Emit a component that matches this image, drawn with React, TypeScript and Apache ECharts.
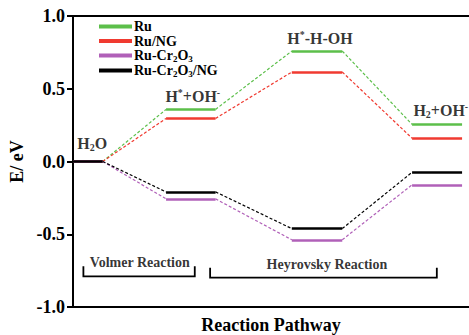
import React, { useEffect, useRef } from "react";
import * as echarts from "echarts";

const FONT = "Liberation Serif";

// ---- data ----
const seriesNames = ["Ru", "Ru/NG", "Ru-Cr2O3", "Ru-Cr2O3/NG"];
const seriesColors = ["#5cbf4a", "#f03a30", "#b060b8", "#000000"];
const legendLabels = [
  "{t|Ru}",
  "{t|Ru/NG}",
  "{t|Ru-Cr}{s|2}{t|O}{s|3}",
  "{t|Ru-Cr}{s|2}{t|O}{s|3}{t|/NG}",
];
const ruValues = [0, 0.358, 0.759, 0.255];
const ruNGValues = [0, 0.296, 0.615, 0.16];
const ruCrValues = [0, -0.257, -0.538, -0.16];
const ruCrNGValues = [0, -0.209, -0.461, -0.074];
const allValues = [ruValues, ruNGValues, ruCrValues, ruCrNGValues];

// reaction steps (x = reaction coordinate)
const stepNames = ["H2O", "H*+OH-", "H*-H-OH", "H2+OH-"];
const stepLabels = [
  "{b|H}{sub|2}{b|O}",
  "{b|H}{sup|*}{b|+OH}{sup|-}",
  "{b|H}{sup|*}{b|-H-OH}",
  "{b|H}{sub|2}{b|+OH}{sup|-}",
];
const levelStart = [0, 1.88, 4.42, 6.85];
const levelEnd = [0.6, 2.88, 5.44, 7.86];
const stepLabelX = [0.39, 2.42, 4.99, 7.43];
const stepLabelY = [0.125, 0.445, 0.845, 0.35];

// reaction brackets
const bracketNames = ["Volmer Reaction", "Heyrovsky Reaction"];
const bracketStart = [0.21, 2.77];
const bracketEnd = [2.46, 7.35];
const bracketBottom = [-0.789, -0.798];
const bracketTop = [-0.72, -0.73];
const bracketLabelX = [1.35, 5.13];
const bracketLabelY = [-0.695, -0.705];

const yTicks = [-1.0, -0.5, 0.0, 0.5, 1.0];
const xMin = 0;
const xMax = 8;

export default function App() {
  const ref = useRef<HTMLDivElement>(null);
  useEffect(() => {
    if (!ref.current) return;
    const chart = echarts.init(ref.current, undefined, { renderer: "svg" });

    const levelSeries: any[] = [];
    const connectorSeries: any[] = [];
    seriesNames.forEach((name, i) => {
      const v = allValues[i];
      levelSeries.push({
        name,
        type: "lines",
        coordinateSystem: "cartesian2d",
        polyline: false,
        silent: true,
        z: 10 + i,
        lineStyle: { color: seriesColors[i], width: 2.6, type: "solid", opacity: 1 },
        itemStyle: { color: seriesColors[i] },
        data: stepNames.map((s, k) => ({
          name: s,
          coords: [
            [levelStart[k], v[k]],
            [levelEnd[k], v[k]],
          ],
        })),
      });
      connectorSeries.push({
        name,
        type: "lines",
        coordinateSystem: "cartesian2d",
        polyline: false,
        silent: true,
        z: 5 + i,
        lineStyle: { color: seriesColors[i], width: 1.2, type: [3, 2], opacity: 1 },
        itemStyle: { color: seriesColors[i] },
        data: stepNames.slice(0, -1).map((s, k) => ({
          coords: [
            [levelEnd[k], v[k]],
            [levelStart[k + 1], v[k + 1]],
          ],
        })),
      });
    });

    const bracketSeries = {
      type: "lines",
      coordinateSystem: "cartesian2d",
      polyline: true,
      silent: true,
      z: 20,
      lineStyle: { color: "#000", width: 1.8, opacity: 1 },
      data: bracketNames.map((n, k) => ({
        name: n,
        coords: [
          [bracketStart[k], bracketTop[k]],
          [bracketStart[k], bracketBottom[k]],
          [bracketEnd[k], bracketBottom[k]],
          [bracketEnd[k], bracketTop[k]],
        ],
      })),
    };

    const richStep = {
      b: { fontFamily: FONT, fontWeight: "bold", fontSize: 16, color: "#000", lineHeight: 18 },
      sup: { fontFamily: FONT, fontWeight: "bold", fontSize: 10, color: "#000", verticalAlign: "top", lineHeight: 10 },
      sub: { fontFamily: FONT, fontWeight: "bold", fontSize: 10, color: "#000", verticalAlign: "bottom", lineHeight: 10 },
    };

    const stepLabelSeries = {
      type: "scatter",
      silent: true,
      symbolSize: 0,
      z: 30,
      data: stepNames.map((s, k) => ({
        name: s,
        value: [stepLabelX[k], stepLabelY[k]],
        label: {
          show: true,
          position: "inside",
          formatter: stepLabels[k],
          rich: richStep,
        },
      })),
    };

    const bracketLabelSeries = {
      type: "scatter",
      silent: true,
      symbolSize: 0,
      z: 30,
      data: bracketNames.map((n, k) => ({
        name: n,
        value: [bracketLabelX[k], bracketLabelY[k]],
        label: {
          show: true,
          position: "inside",
          formatter: n,
          fontFamily: FONT,
          fontWeight: "bold",
          fontSize: 14,
          color: "#000",
        },
      })),
    };

    chart.setOption({
      animation: false,
      color: seriesColors,
      grid: { left: 73, right: 0, top: 16, bottom: 28, outerBoundsMode: "none", containLabel: false },
      legend: {
        orient: "vertical",
        left: 99,
        top: 19.5,
        padding: 0,
        itemWidth: 31,
        itemHeight: 2,
        itemGap: 0.5,
        icon: "rect",
        selectedMode: false,
        data: seriesNames.map((n, i) => ({ name: n, itemStyle: { color: seriesColors[i] } })),
        formatter: (name: string) => legendLabels[seriesNames.indexOf(name)],
        textStyle: {
          padding: [0, 0, 0, -2],
          rich: {
            t: { fontFamily: FONT, fontWeight: "bold", fontSize: 14, color: "#000", lineHeight: 15 },
            s: { fontFamily: FONT, fontWeight: "bold", fontSize: 9, color: "#000", verticalAlign: "bottom", lineHeight: 9 },
          },
        },
      },
      xAxis: [
        {
          type: "value",
          min: xMin,
          max: xMax,
          position: "bottom",
          name: "Reaction Pathway",
          nameLocation: "middle",
          nameGap: 9,
          nameTextStyle: { fontFamily: FONT, fontWeight: "bold", fontSize: 18, color: "#000" },
          axisLine: { show: true, onZero: false, lineStyle: { color: "#000", width: 2 } },
          axisTick: { show: false },
          axisLabel: { show: false },
          splitLine: { show: false },
        },
        {
          type: "value",
          min: xMin,
          max: xMax,
          position: "top",
          axisLine: { show: true, onZero: false, lineStyle: { color: "#000", width: 2 } },
          axisTick: { show: false },
          axisLabel: { show: false },
          splitLine: { show: false },
        },
      ],
      yAxis: {
        type: "value",
        min: yTicks[0],
        max: yTicks[yTicks.length - 1],
        interval: 0.5,
        name: "E/ eV",
        nameLocation: "middle",
        nameRotate: 90,
        nameGap: 47,
        nameTextStyle: { fontFamily: FONT, fontWeight: "bold", fontSize: 18, color: "#000" },
        axisLine: { show: true, onZero: false, lineStyle: { color: "#000", width: 2 } },
        axisTick: { show: true, inside: false, length: 6, lineStyle: { color: "#000", width: 2 } },
        axisLabel: {
          fontFamily: FONT,
          fontWeight: "bold",
          fontSize: 18,
          color: "#000",
          margin: 8,
          formatter: (v: number) => v.toFixed(1),
        },
        splitLine: { show: false },
      },
      series: [...connectorSeries, ...levelSeries, bracketSeries, stepLabelSeries, bracketLabelSeries],
    });
    return () => chart.dispose();
  }, []);
  return (
    <div
      ref={ref}
      style={{ position: "fixed", left: 0, top: 0, width: 469, height: 335, background: "#fff" }}
    />
  );
}
